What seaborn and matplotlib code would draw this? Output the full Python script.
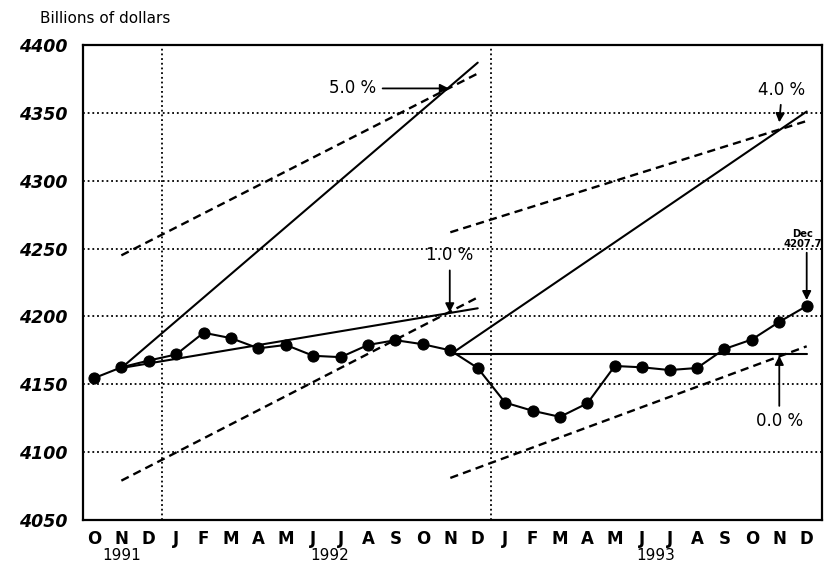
import matplotlib
matplotlib.use("Agg")
import matplotlib.pyplot as plt
import seaborn as sns
import pandas as pd
import numpy as np

# ---- data ----
months = ["O", "N", "D", "J", "F", "M", "A", "M", "J", "J", "A", "S", "O", "N", "D",
          "J", "F", "M", "A", "M", "J", "J", "A", "S", "O", "N", "D"]
values = [4154.5, 4162.5, 4167.5, 4172.0, 4188.0, 4184.0, 4176.5, 4179.0, 4171.0,
          4170.0, 4179.0, 4182.5, 4179.5, 4175.0, 4162.0, 4136.5, 4130.5, 4126.0,
          4136.0, 4163.5, 4162.5, 4160.5, 4162.0, 4176.0, 4183.0, 4196.0, 4207.7]
years = ["1991", "1992", "1993"]
year_pos = [1, 8.6, 20.5]

cone92_x = [1, 14]
solid92_5 = [4162, 4387]
solid92_1 = [4162, 4206]
dash92_hi = [4245, 4379]
dash92_lo = [4079, 4214]

cone93_x = [13, 26]
solid93_4 = [4172, 4351]
solid93_0 = [4172, 4172]
dash93_hi = [4262, 4344]
dash93_lo = [4081, 4178]

yticks = [4050, 4100, 4150, 4200, 4250, 4300, 4350, 4400]

# ---- figure ----
sns.set_style("white")
plt.rcParams["font.family"] = ["DejaVu Sans"]
plt.rcParams["text.color"] = "black"
plt.rcParams["xtick.color"] = "black"
plt.rcParams["ytick.color"] = "black"
plt.rcParams["axes.labelcolor"] = "black"

fig = plt.figure(figsize=(8.24, 5.71), dpi=100)
ax = fig.add_axes([0.1007, 0.0893, 0.8966, 0.8319])

idx = np.arange(len(values))
df = pd.DataFrame({"idx": idx, "val": values})

# grid
for yv in yticks[1:-1]:
    ax.axhline(yv, color="black", lw=1.3, ls=(0, (1, 1.6)), zorder=1)
for xv in [2.5, 14.5]:
    ax.axvline(xv, color="black", lw=1.3, ls=(0, (1, 1.6)), zorder=1)

# cone lines
def seg(xs, ys, dashed):
    d = pd.DataFrame({"x": xs, "y": ys})
    sns.lineplot(data=d, x="x", y="y", ax=ax, color="black",
                 lw=1.7 if dashed else 1.5,
                 linestyle=(0, (3.5, 2.2)) if dashed else "-", zorder=2,
                 estimator=None, sort=False)

seg(cone92_x, solid92_5, False)
seg(cone92_x, solid92_1, False)
seg(cone92_x, dash92_hi, True)
seg(cone92_x, dash92_lo, True)
seg(cone93_x, solid93_4, False)
seg(cone93_x, solid93_0, False)
seg(cone93_x, dash93_hi, True)
seg(cone93_x, dash93_lo, True)

# data series
sns.lineplot(data=df, x="idx", y="val", ax=ax, color="black", lw=1.5,
             marker="o", markersize=8, markeredgecolor="black",
             markerfacecolor="black", zorder=4, estimator=None)

ax.set_xlim(-0.4, 26.55)
ax.set_ylim(4050, 4400)
ax.set_xlabel("")
ax.set_ylabel("")

ax.set_yticks(yticks)
ax.set_yticklabels([str(v) for v in yticks], fontsize=12.5, style="italic",
                   fontweight="bold")
ax.tick_params(axis="y", direction="out", length=7, width=1.2, pad=4, color="black")

ax.set_xticks(idx)
ax.set_xticklabels(months, fontsize=12, fontweight="bold")
ax.tick_params(axis="x", which="major", length=0, pad=7)
ax.set_xticks(np.arange(0.5, 26, 1.0), minor=True)
ax.tick_params(axis="x", which="minor", direction="in", length=7, width=1.2, color="black")

for s in ax.spines.values():
    s.set_color("black")
    s.set_linewidth(1.6)

# year labels
trans = matplotlib.transforms.blended_transform_factory(ax.transData, fig.transFigure)
for yr, xp in zip(years, year_pos):
    ax.text(xp, 0.028, yr, transform=trans, ha="center", va="center", fontsize=11)

fig.text(0.049, 0.968, "Billions of dollars", fontsize=11, ha="left", va="center")

arrow = dict(arrowstyle="-|>", color="black", lw=1.3, mutation_scale=13, shrinkA=2, shrinkB=0)

ax.annotate("5.0 %", xy=(12.95, 4368), xytext=(9.45, 4368), fontsize=12,
            ha="center", va="center", arrowprops=arrow)
ax.annotate("1.0 %", xy=(12.98, 4203), xytext=(12.98, 4245), fontsize=12,
            ha="center", va="center", arrowprops=arrow)
ax.annotate("4.0 %", xy=(25.0, 4343), xytext=(25.1, 4367), fontsize=12,
            ha="center", va="center", arrowprops=arrow)
ax.annotate("0.0 %", xy=(25.0, 4171), xytext=(25.0, 4123), fontsize=12,
            ha="center", va="center", arrowprops=arrow)
ax.text(25.85, 4250, "Dec\n4207.7", fontsize=7.2, fontweight="bold",
        ha="center", va="bottom", linespacing=1.0, clip_on=False)
ax.annotate("", xy=(26, 4212), xytext=(26, 4249), arrowprops=arrow,
            annotation_clip=False)

fig.savefig("out.png", dpi=100)
